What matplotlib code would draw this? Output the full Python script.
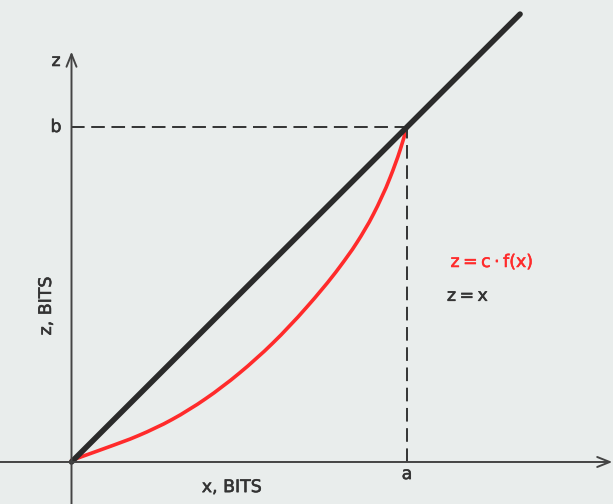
import matplotlib
matplotlib.use("Agg")
import matplotlib.pyplot as plt
import matplotlib.patheffects as pe
from matplotlib.path import Path
from matplotlib.patches import PathPatch
import numpy as np

# Point (a, b) where the curve meets the diagonal, in units of a
a_val = 1.0
b_val = 1.0

# Red curve z = c*f(x), sampled points (x, z)
curve_x = [0.0, 0.05, 0.10, 0.20, 0.30, 0.40, 0.50, 0.60, 0.70, 0.80,
           0.85, 0.90, 0.95, 0.98, 1.0]
curve_z = [0.005, 0.023, 0.041, 0.079, 0.127, 0.189, 0.265, 0.355, 0.461,
           0.583, 0.654, 0.740, 0.850, 0.933, 1.0]

# Diagonal z = x runs past (a, b)
diag_end = 1.337

bg = "#e9edec"
ink = "#333333"
red = "#ff2b2b"


def smooth_path(xs, ys):
    """Cubic Hermite curve through the points, as Bezier segments."""
    x = np.asarray(xs, float)
    y = np.asarray(ys, float)
    h = np.diff(x)
    d = np.diff(y) / h
    m = np.empty_like(x)
    m[0], m[-1] = d[0], d[-1]
    m[1:-1] = (d[:-1] * h[1:] + d[1:] * h[:-1]) / (h[:-1] + h[1:])
    verts = [(x[0], y[0])]
    codes = [Path.MOVETO]
    for i in range(len(x) - 1):
        verts += [(x[i] + h[i] / 3, y[i] + m[i] * h[i] / 3),
                  (x[i + 1] - h[i] / 3, y[i + 1] - m[i + 1] * h[i] / 3),
                  (x[i + 1], y[i + 1])]
        codes += [Path.CURVE4] * 3
    return Path(verts, codes)


fig = plt.figure(figsize=(6.13, 5.04), dpi=100, facecolor=bg)
ax = fig.add_axes([0, 0, 1, 1], facecolor=bg)
ax.set_xlim(-0.2131, 1.6140)
ax.set_ylim(-0.1254, 1.3791)
ax.axis("off")

# Coordinate axes with open arrow heads
arrow = dict(arrowstyle="->,head_length=9,head_width=3.6", mutation_scale=1,
             lw=1.4, color="#444444", shrinkA=0, shrinkB=0)
ax.annotate("", xy=(1.612, 0), xytext=(-0.2131, 0), arrowprops=arrow)
ax.annotate("", xy=(0, 1.225), xytext=(0, -0.1254), arrowprops=arrow)

# Dashed guides to a and b
dash = (0, (7.0, 3.4))
ax.plot([0, a_val], [b_val, b_val], color=ink, lw=1.4, ls=dash)
ax.plot([a_val, a_val], [0, b_val], color=ink, lw=1.4, ls=dash)

# z = x and z = c*f(x)
ax.plot([0, diag_end], [0, diag_end], color="#2b2b2b", lw=4.0,
        solid_capstyle="round")
ax.add_patch(PathPatch(smooth_path(curve_x, curve_z), facecolor="none",
                       edgecolor=red, lw=2.6, capstyle="round"))

fs = 12.5
bold = [pe.withStroke(linewidth=0.4, foreground=ink)]
bold_red = [pe.withStroke(linewidth=0.4, foreground=red)]
ax.text(-0.046, 1.197, "z", fontsize=fs, color=ink, ha="center",
        va="center", path_effects=bold)
ax.text(-0.046, b_val, "b", fontsize=fs, color=ink, ha="center",
        va="center", path_effects=bold)
ax.text(a_val, -0.036, "a", fontsize=fs, color=ink, ha="center",
        va="center", path_effects=bold)
ax.text(0.478, -0.075, "x, BITS", fontsize=fs, color=ink, ha="center",
        va="center", path_effects=bold)
ax.text(-0.076, 0.466, "z, BITS", fontsize=fs, color=ink, ha="center",
        va="center", rotation=90, path_effects=bold)
ax.text(1.253, 0.597, "z\u2009=\u2009c\u2009·\u2009f(x)", fontsize=fs,
        color=red, ha="center", va="center", path_effects=bold_red)
ax.text(1.119, 0.496, "z\u2009=\u2009x", fontsize=fs, color=ink, ha="left",
        va="center", path_effects=bold)

fig.savefig("out.png", dpi=100, facecolor=bg)
